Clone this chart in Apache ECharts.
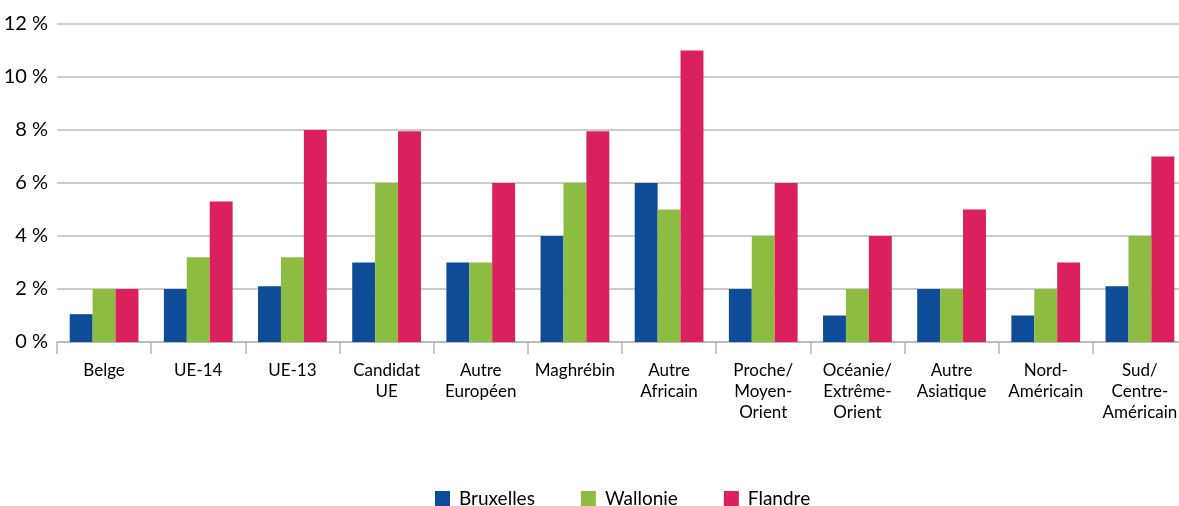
<!DOCTYPE html>
<html>
<head>
<meta charset="utf-8">
<script src="https://cdn.jsdelivr.net/npm/echarts@6/dist/echarts.min.js"></script>
<style>
  html, body { margin: 0; padding: 0; background: #fff; overflow: hidden; }
  #chart { width: 1187px; height: 506px; }
</style>
</head>
<body>
<div id="chart"></div>
<script>
'use strict'

const categories = [
  'Belge', 'UE-14', 'UE-13', 'Candidat\nUE', 'Autre\nEuropéen', 'Maghrébin',
  'Autre\nAfricain', 'Proche/\nMoyen-\nOrient', 'Océanie/\nExtrême-\nOrient',
  'Autre\nAsiatique', 'Nord-\nAméricain', 'Sud/\nCentre-\nAméricain'
];
const bruxelles = [1.05, 2, 2.1, 3, 3, 4, 6, 2, 1, 2, 1, 2.1];
const wallonie  = [2, 3.2, 3.2, 6, 3, 6, 5, 4, 2, 2, 2, 4];
const flandre   = [2, 5.3, 8, 7.95, 6, 7.95, 11, 6, 4, 5, 3, 7];
const yTicks = [0, 2, 4, 6, 8, 10, 12];

const font = 'Lato, "Open Sans", sans-serif';
const chart = echarts.init(document.getElementById('chart'));

function bar(name, data, color) {
  return {
    name: name,
    type: 'bar',
    data: data,
    barGap: '0%',
    barCategoryGap: '27%',
    itemStyle: { color: color },
    animation: false
  };
}

const option = {
  backgroundColor: '#ffffff',
  textStyle: { fontFamily: font },
  grid: { left: 57, right: 0, top: 24, bottom: 164 },
  legend: {
    top: 484,
    left: 430,
    itemWidth: 15,
    itemHeight: 15,
    itemGap: 46,
    icon: 'rect',
    textStyle: { fontSize: 19, color: '#000', fontFamily: font, padding: [0, 0, 0, 4] },
    data: ['Bruxelles', 'Wallonie', 'Flandre']
  },
  xAxis: {
    type: 'category',
    data: categories,
    axisLine: { lineStyle: { color: '#b5b5b5', width: 1.5 } },
    axisTick: { show: true, length: 12, lineStyle: { color: '#b5b5b5', width: 1.5 } },
    axisLabel: {
      interval: 0,
      margin: 18,
      fontSize: 17,
      lineHeight: 21,
      color: '#000',
      fontFamily: font
    }
  },
  yAxis: {
    type: 'value',
    min: yTicks[0],
    max: yTicks[yTicks.length - 1],
    interval: 2,
    axisLine: { show: false },
    axisTick: { show: false },
    splitLine: { lineStyle: { color: '#bbbbbb', width: 1.5 } },
    axisLabel: {
      formatter: '{value} %',
      fontSize: 20,
      margin: 9,
      color: '#000',
      fontFamily: font
    }
  },
  series: [
    bar('Bruxelles', bruxelles, '#0f4c97'),
    bar('Wallonie', wallonie, '#8cbd42'),
    bar('Flandre', flandre, '#da205d')
  ]
};

chart.setOption(option);
</script>
</body>
</html>
